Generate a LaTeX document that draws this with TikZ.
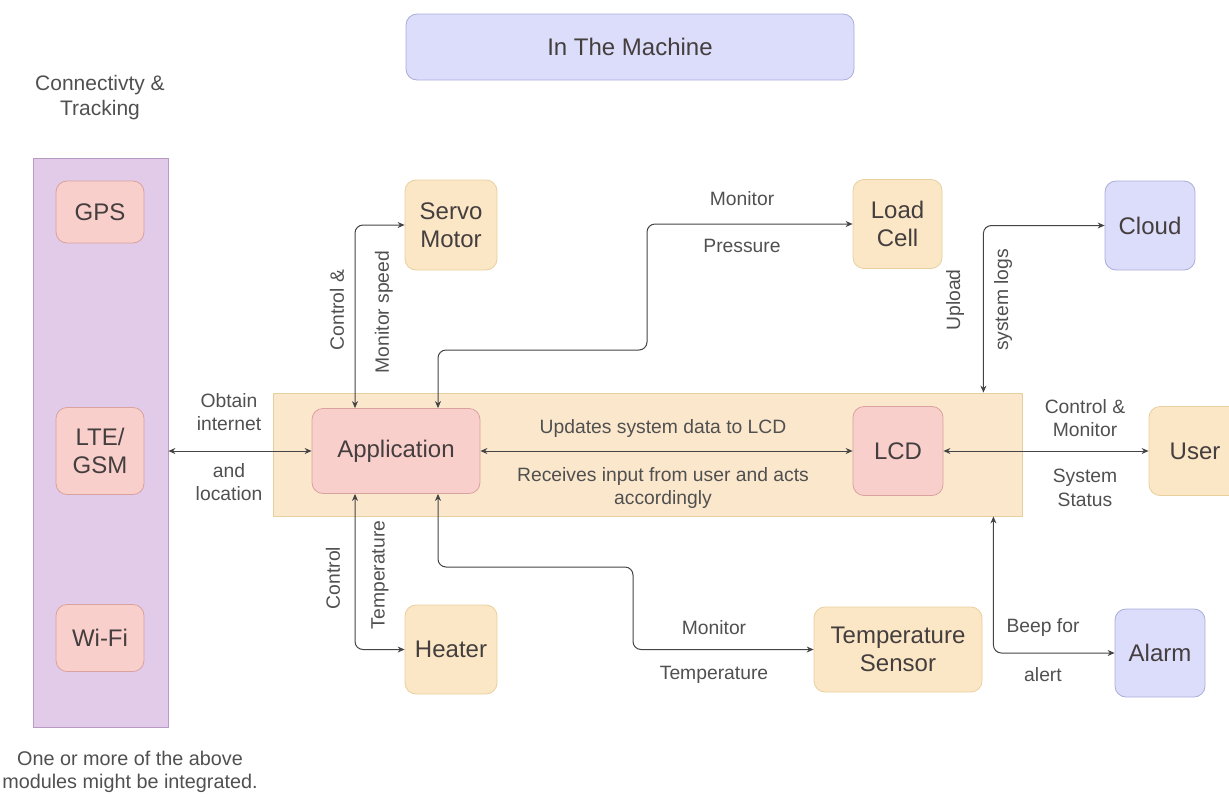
\documentclass[tikz,border=0pt]{standalone}
\usepackage{fontspec}
\setmainfont{Liberation Sans}
\usetikzlibrary{arrows.meta}
\definecolor{txt}{HTML}{443E3E}
\definecolor{ltxt}{HTML}{505050}
\definecolor{redf}{HTML}{F9CFCC}
\definecolor{redd}{HTML}{D9A29E}
\definecolor{yelf}{HTML}{FBE7C6}
\definecolor{yeld}{HTML}{E8D09E}
\definecolor{bluf}{HTML}{DCDDFA}
\definecolor{blud}{HTML}{AAACD8}
\definecolor{purf}{HTML}{E2CBE9}
\definecolor{purd}{HTML}{B99AC4}
\definecolor{mainf}{HTML}{FBE8CC}
\definecolor{maind}{HTML}{E6CF9F}
\definecolor{linec}{HTML}{444444}
\begin{document}
\begin{tikzpicture}[x=1pt,y=-1pt,
  nfont/.style={font=\fontsize{24}{28}\selectfont},
  lfont/.style={font=\fontsize{19.3}{23.5}\selectfont},
  blk/.style={rounded corners=11pt, line width=0.8pt, align=center, nfont, text=txt, inner sep=0pt},
  redbox/.style={blk, fill=redf, draw=redd},
  yelbox/.style={blk, fill=yelf, draw=yeld},
  blubox/.style={blk, fill=bluf, draw=blud},
  lbl/.style={lfont, text=ltxt, align=center, inner sep=0pt},
  conn/.style={draw=linec, line width=1pt, rounded corners=8pt, {Stealth[length=7pt,width=6pt]}-{Stealth[length=7pt,width=6pt]}},
]
\useasboundingbox (0,0) rectangle (1229,796);
% title
\node[blubox, minimum width=448pt, minimum height=66pt] (machine) at (630,47) {In The Machine};
% connectivity panel
\node[lbl, font=\fontsize{21}{25}\selectfont] (conntitle) at (100,98) {Connectivty \&\\Tracking};
\node[draw=purd, fill=purf, line width=0.8pt, minimum width=135pt, minimum height=569pt, inner sep=0pt] (panel) at (100.5,442.5) {};
\node[redbox, minimum width=88pt, minimum height=62pt] (gps) at (100,212) {GPS};
\node[redbox, minimum width=88pt, minimum height=87pt] (lte) at (100,451) {LTE/\\GSM};
\node[redbox, minimum width=88pt, minimum height=67pt] (wifi) at (100,638) {Wi-Fi};
\node[lbl, font=\fontsize{19.8}{23}\selectfont] (note) at (130,772) {One or more of the above\\modules might be integrated.};
% main box
\node[draw=maind, fill=mainf, line width=0.8pt, minimum width=749pt, minimum height=123pt, inner sep=0pt] (main) at (647.5,454.5) {};
\node[redbox, minimum width=168pt, minimum height=85pt] (app) at (396,451) {Application};
\node[redbox, minimum width=90pt, minimum height=89pt] (lcd) at (898,451) {LCD};
% peripherals
\node[yelbox, minimum width=92pt, minimum height=90pt] (servo) at (451,225) {Servo\\Motor};
\node[yelbox, minimum width=89pt, minimum height=89pt] (load) at (897.5,224) {Load\\Cell};
\node[blubox, minimum width=90pt, minimum height=89pt] (cloud) at (1150,225.5) {Cloud};
\node[yelbox, minimum width=92pt, minimum height=89pt] (user) at (1195,451) {User};
\node[yelbox, minimum width=92pt, minimum height=89pt] (heater) at (451,649.5) {Heater};
\node[yelbox, minimum width=168pt, minimum height=85pt] (tsens) at (898,649.5) {Temperature\\Sensor};
\node[blubox, minimum width=90pt, minimum height=88pt] (alarm) at (1160,653) {Alarm};
% connectors
\draw[conn] (app.west -| panel.east) -- (app.west);
\draw[conn] ([xshift=-41pt]app.north) |- (servo.west);
\draw[conn] ([xshift=42pt]app.north) |- (647,350) |- (load.west);
\draw[conn] ([xshift=-39pt]main.north east) |- (cloud.west);
\draw[conn] (app.east) -- (lcd.west);
\draw[conn] (lcd.east) -- (user.west);
\draw[conn] ([xshift=-41pt]app.south) |- (heater.west);
\draw[conn] ([xshift=42pt]app.south) |- (633,567) |- (tsens.west);
\draw[conn] ([xshift=-29pt]main.south east) |- (alarm.west);
% labels
\node[lbl] (l1) at (229,412) {Obtain\\internet};
\node[lbl] (l2) at (229,482) {and\\location};
\node[lbl, rotate=90] (l3) at (337,310) {Control \&};
\node[lbl, rotate=90] (l4) at (384,312) {Monitor speed};
\node[lbl] (l5) at (742,199) {Monitor};
\node[lbl] (l6) at (742,246) {Pressure};
\node[lbl, rotate=90] (l7) at (955,300) {Upload};
\node[lbl, rotate=90] (l8) at (1003,300) {system logs};
\node[lbl] (l9) at (663,429) {Updates system data to LCD};
\node[lbl] (l10) at (663,488) {Receives input from user and acts\\accordingly};
\node[lbl] (l11) at (1085,418) {Control \&\\Monitor};
\node[lbl] (l12) at (1085,488) {System\\Status};
\node[lbl, rotate=90] (l13) at (333,578) {Control};
\node[lbl, rotate=90] (l14) at (380,575) {Temperature};
\node[lbl] (l15) at (714,628) {Monitor};
\node[lbl] (l16) at (714,675) {Temperature};
\node[lbl] (l17) at (1043,628) {Beep for};
\node[lbl] (l18) at (1043,675) {alert};
\end{tikzpicture}
\end{document}
